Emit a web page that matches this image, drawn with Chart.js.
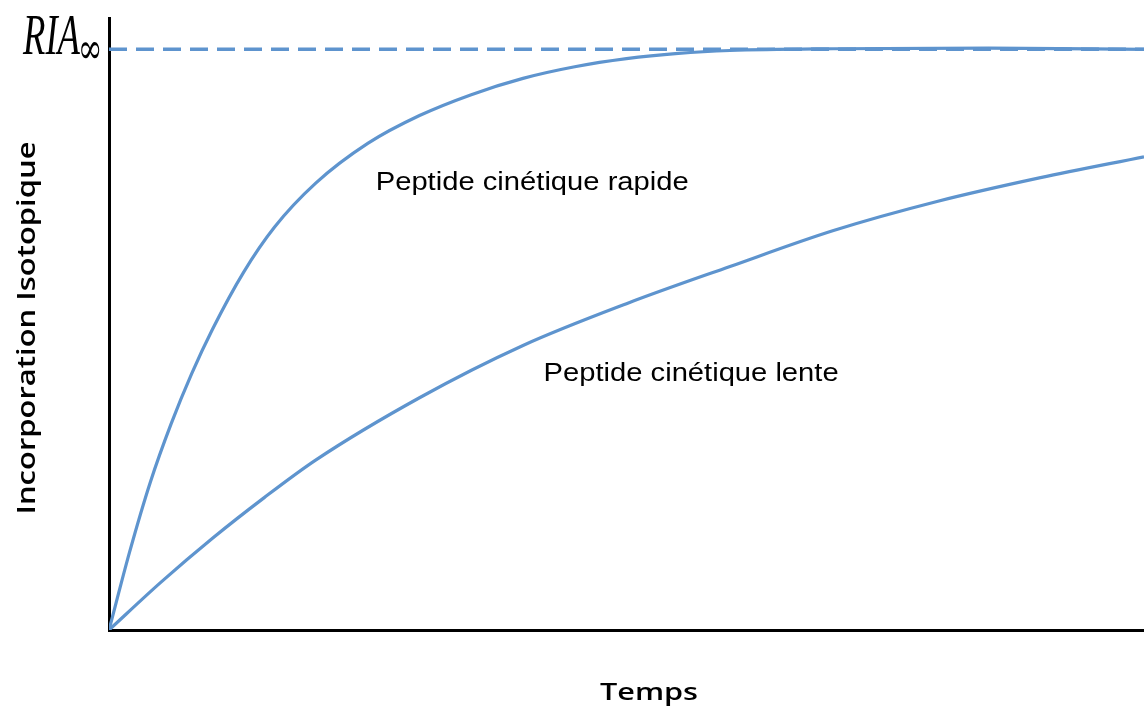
<!DOCTYPE html>
<html>
<head>
<meta charset="utf-8">
<script src="https://cdn.jsdelivr.net/npm/chart.js@4/dist/chart.umd.min.js"></script>
<style>
  html, body { margin: 0; padding: 0; background: #ffffff; }
  #wrap { width: 1144px; height: 713px; position: relative; }
</style>
</head>
<body>
<div id="wrap"><canvas id="c" width="1144" height="713"></canvas></div>
<script>
// ---- data (time in arbitrary units, incorporation as fraction of RIA∞) ----
const fastTime   = [0, 2, 4, 6, 8, 10, 13, 16, 20, 25, 30, 35, 40, 45, 50, 55, 60, 70, 85, 100];
const fastValues = [0, 0.135, 0.255, 0.355, 0.442, 0.518, 0.616, 0.694, 0.770, 0.838, 0.886, 0.922, 0.950, 0.970, 0.984, 0.993, 0.998, 1.001, 1.002, 1.0];
const slowTime   = [0, 5, 10, 15, 20, 30, 40, 50, 60, 70, 80, 90, 100];
const slowValues = [0, 0.082, 0.158, 0.228, 0.293, 0.400, 0.490, 0.562, 0.626, 0.688, 0.738, 0.779, 0.815];
const plateauTime   = [0, 100];
const plateauValues = [1, 1];

const xTitle = 'Temps';
const yTitle = 'Incorporation Isotopique';
const plateauLabel = 'RIA';
const plateauSub = '\u221E';
const fastLabel = 'Peptide cinétique rapide';
const slowLabel = 'Peptide cinétique lente';
// annotation anchors in data units
const fastLabelPos = [25.77, 0.758];
const slowLabelPos = [41.99, 0.429];

const toXY = (xs, ys) => xs.map((x, i) => ({x: x, y: ys[i]}));
const BLUE = 'rgb(94,148,206)';

function stretchedText(ctx, text, font, x, y, targetWidth, align, rot) {
  ctx.save();
  ctx.translate(x, y);
  if (rot) ctx.rotate(rot);
  ctx.font = font;
  const w = ctx.measureText(text).width;
  ctx.scale(targetWidth / w, 1);
  ctx.textAlign = align;
  ctx.textBaseline = 'alphabetic';
  ctx.fillStyle = '#000';
  ctx.fillText(text, 0, 0);
  ctx.restore();
}

// fit a glyph's ink box into a given rectangle
function boxText(ctx, text, font, left, top, w, h) {
  ctx.save();
  ctx.font = font;
  ctx.textAlign = 'left';
  ctx.textBaseline = 'alphabetic';
  const m = ctx.measureText(text);
  const inkW = m.actualBoundingBoxLeft + m.actualBoundingBoxRight;
  const inkH = m.actualBoundingBoxAscent + m.actualBoundingBoxDescent;
  const sx = w / inkW, sy = h / inkH;
  ctx.translate(left, top);
  ctx.scale(sx, sy);
  ctx.fillStyle = '#000';
  ctx.fillText(text, m.actualBoundingBoxLeft, m.actualBoundingBoxAscent);
  ctx.restore();
}

const textPlugin = {
  id: 'texts',
  afterDraw(chart) {
    const ctx = chart.ctx;
    const xs = chart.scales.x, ys = chart.scales.y;
    // axis titles
    stretchedText(ctx, xTitle, '600 23.5px "Open Sans"', 649, 699.5, 98, 'center', 0);
    stretchedText(ctx, yTitle, '600 25.5px "Open Sans"', 35, 328, 373, 'center', -Math.PI / 2);
    // plateau label
    const py = ys.getPixelForValue(1);
    stretchedText(ctx, plateauLabel, 'italic 56px "Liberation Serif"', 23, py + 4.5, 57, 'left', 0);
    boxText(ctx, plateauSub, '40px "DejaVu Serif"', 81, py - 8, 19, 17);
    // curve annotations
    stretchedText(ctx, fastLabel, '25.5px "Liberation Sans"',
      xs.getPixelForValue(fastLabelPos[0]), ys.getPixelForValue(fastLabelPos[1]), 313, 'left', 0);
    stretchedText(ctx, slowLabel, '25.5px "Liberation Sans"',
      xs.getPixelForValue(slowLabelPos[0]), ys.getPixelForValue(slowLabelPos[1]), 295, 'left', 0);
  }
};

function build() {
  new Chart(document.getElementById('c'), {
    type: 'line',
    data: {
      datasets: [
        { label: 'RIA∞', data: toXY(plateauTime, plateauValues), borderColor: BLUE, borderWidth: 3.5,
          borderDash: [18, 9], pointRadius: 0, order: 3 },
        { label: fastLabel, data: toXY(fastTime, fastValues), borderColor: BLUE, borderWidth: 3.2,
          pointRadius: 0, cubicInterpolationMode: 'monotone', order: 1 },
        { label: slowLabel, data: toXY(slowTime, slowValues), borderColor: BLUE, borderWidth: 3.2,
          pointRadius: 0, cubicInterpolationMode: 'monotone', order: 2 }
      ]
    },
    options: {
      responsive: false,
      animation: false,
      devicePixelRatio: 1,
      layout: { padding: { left: 109, right: 0, top: 18, bottom: 83 } },
      plugins: { legend: { display: false }, tooltip: { enabled: false } },
      scales: {
        x: { type: 'linear', min: 0, max: 100,
             grid: { display: false, drawTicks: false },
             ticks: { display: false },
             border: { display: true, color: '#000', width: 3 } },
        y: { type: 'linear', min: 0, max: 1.054,
             grid: { display: false, drawTicks: false },
             ticks: { display: false },
             border: { display: true, color: '#000', width: 3 } }
      }
    },
    plugins: [textPlugin]
  });
}

const fontsToLoad = ['600 23px "Open Sans"', 'italic 56px "Liberation Serif"', '40px "DejaVu Serif"', '25.5px "Liberation Sans"'];
if (document.fonts && document.fonts.load) {
  Promise.all(fontsToLoad.map(f => document.fonts.load(f).catch(() => null))).then(build, build);
} else {
  build();
}
</script>
</body>
</html>
